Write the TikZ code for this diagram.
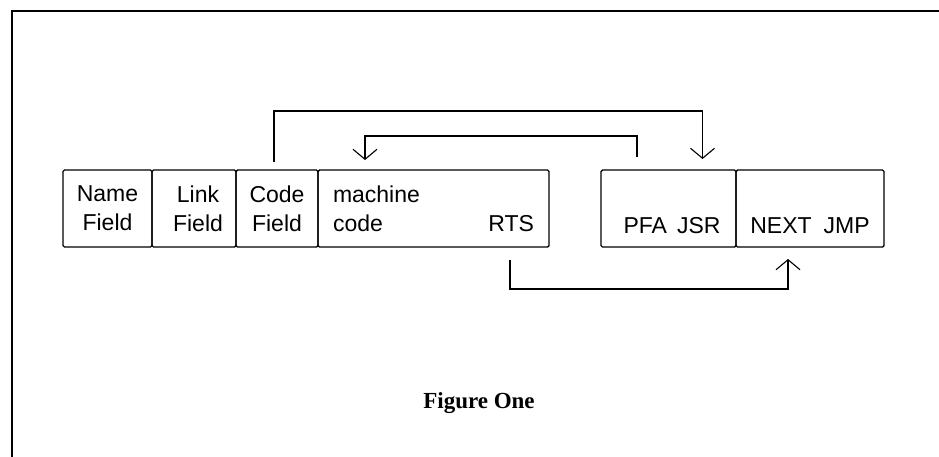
\documentclass[tikz,border=0pt]{standalone}
\usepackage{fontspec}
\setmainfont{Liberation Serif}
\newfontfamily\plotfont{Liberation Sans}
\usetikzlibrary{arrows.meta, positioning}

\begin{document}
\begin{tikzpicture}[x=1pt, y=-1pt,
    every node/.style={font=\plotfont\fontsize{23}{29}\selectfont},
    field/.style={draw, line width=1.4pt, rounded corners=1.5pt, minimum height=77pt,
                  inner sep=0pt, outer sep=0pt, align=center},
    arr/.style={-{Straight Barb[length=10pt, width=24pt]}, line width=1.1pt},
    frame/.style={line width=1.8pt}
  ]
    \useasboundingbox (0,0) rectangle (939,456);
    \draw[frame] (12,460) -- (12,11) -- (945,11);

    \node[field, minimum width=89pt, anchor=north west] (name) at (63,170) {Name\\Field};
    \node[field, minimum width=84pt, right=0pt of name] (link) {\hspace*{8pt}Link\\\hspace*{8pt}Field};
    \node[field, minimum width=82pt, right=0pt of link] (code) {Code\\Field};
    \node[field, minimum width=231pt, text width=201pt, align=left, right=0pt of code] (mach)
        {machine\\code\hfill RTS};
    \node[field, minimum width=135pt, anchor=north west] (pfa) at (601,170) {\strut\\\hspace*{7pt}PFA\hspace*{10pt}JSR};
    \node[field, minimum width=148pt, right=0pt of pfa] (next) {\strut\\NEXT\hspace*{12pt}JMP};

    \node[font=\bfseries\fontsize{23}{28}\selectfont] (title) at (479,403) {Figure One};

    \draw[arr] ([xshift=-3pt, yshift=8pt]code.north) -- ++(0,-51) -| ([xshift=34pt, yshift=11pt]pfa.north);
    \draw[arr] ([xshift=36pt, yshift=13pt]pfa.north west) -- ++(0,-21) -| ([xshift=47pt, yshift=10pt]mach.north west);
    \draw[arr] ([xshift=-39pt, yshift=-13pt]mach.south east) -- ++(0,29) -| ([xshift=52pt, yshift=-12pt]next.south west);
\end{tikzpicture}
\end{document}
